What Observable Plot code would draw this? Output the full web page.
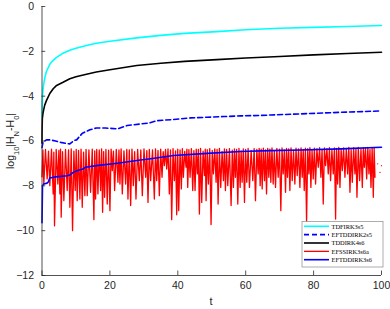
<!DOCTYPE html>
<html><head><meta charset="utf-8">
<script src="https://cdn.jsdelivr.net/npm/d3@7"></script>
<script src="https://cdn.jsdelivr.net/npm/@observablehq/plot@0.6"></script>
<style>body{margin:0;background:#fff}</style>
</head><body><div id="chart"></div>
<script>
// ---- data ----
const xTicks = [0, 20, 40, 60, 80, 100];
const yTicks = [-12, -10, -8, -6, -4, -2, 0];
const seriesNames = ["TDFIRK3s5", "EFTDDIRK2s5", "TDDIRK4s6", "EFSSIRK3s6a", "EFTDDIRK3s6"];

const cyanT = [0, 0.05, 0.15, 0.3, 0.5, 0.8, 1.3, 2.3, 3.3, 4.3, 6, 8.2, 10, 13.1, 16, 20, 27.9, 35, 42, 51.5, 60, 70, 80, 90, 100];
const cyanV = [-4.9, -4.4, -4.0, -3.7, -3.45, -3.2, -2.9, -2.58, -2.4, -2.27, -2.1, -1.95, -1.86, -1.74, -1.64, -1.55, -1.4, -1.29, -1.2, -1.12, -1.04, -0.97, -0.93, -0.89, -0.85];

const blackT = [0, 0.02, 0.1, 0.3, 0.5, 0.8, 1.3, 2.3, 3.3, 4.3, 6.2, 8.2, 10, 13.1, 16, 20, 27.9, 35, 42, 51.5, 60, 70, 80, 90, 100];
const blackV = [-6.1, -5.6, -5.0, -4.75, -4.6, -4.4, -4.2, -3.88, -3.67, -3.52, -3.38, -3.22, -3.13, -3.02, -2.92, -2.82, -2.63, -2.53, -2.45, -2.37, -2.3, -2.23, -2.16, -2.1, -2.04];

const dashT = [0, 0.3, 1.3, 2.5, 4, 5.5, 7.4, 8.2, 9.4, 10.2, 11.9, 14.1, 16, 18.7, 22.2, 25.1, 29, 31.5, 34, 38.8, 43.8, 48.7, 53.5, 58.5, 64.4, 67.4, 76.2, 88, 100];
const dashV = [-6.3, -6.05, -5.95, -5.95, -6.0, -6.06, -6.12, -6.13, -5.98, -5.95, -5.65, -5.5, -5.42, -5.42, -5.46, -5.31, -5.24, -5.2, -5.09, -5.04, -4.97, -4.94, -4.91, -4.88, -4.86, -4.84, -4.79, -4.72, -4.66];

const blueT = [0, 0.15, 0.5, 1.5, 1.8, 2.3, 4, 7.4, 8.2, 9.2, 10.5, 12.1, 12.8, 16, 22.2, 29, 31.5, 38.8, 48.7, 58.5, 67.4, 76.2, 88, 100];
const blueV = [-9.65, -8.0, -7.92, -7.88, -7.84, -7.65, -7.6, -7.55, -7.52, -7.4, -7.32, -7.25, -7.17, -7.1, -6.99, -6.85, -6.8, -6.65, -6.55, -6.47, -6.43, -6.4, -6.35, -6.28];

const redStart = [0, -7.6];
const redT = [0.54, 1.52, 2.31, 3.29, 3.69, 4.67, 5.26, 5.65, 6.44, 7.42, 8.21, 9.0, 9.78, 10.37, 11.16, 11.85, 12.63, 13.32, 14.31, 15.29, 15.78, 16.47, 17.26, 17.85, 18.44, 19.22, 20.01, 20.7, 21.39, 22.37, 22.96, 23.65, 24.63, 25.32, 26.11, 26.89, 27.68, 28.66, 29.55, 30.53, 31.22, 32.01,
  33.09, 33.78, 34.56, 35.35, 36.04, 36.73, 37.51, 38.2, 38.99, 39.68, 40.27, 41.05, 41.64, 42.43, 42.92, 43.61, 44.4, 45.08, 45.77, 46.36, 47.05, 47.84, 48.33, 49.02, 49.8, 50.49, 51.28, 51.87, 52.65, 53.44, 54.03, 54.72, 55.7, 56.39, 56.98, 57.67, 58.36, 58.95, 59.64, 60.32, 61.11, 62.09, 62.88, 63.67, 64.26, 64.85, 65.54,
  66.13, 66.81, 67.4, 68.09, 68.78, 69.57, 70.35, 71.04, 71.73, 72.32, 73.01, 73.7, 74.48, 75.17, 75.96, 76.65, 77.24, 77.93, 78.61, 79.2, 79.89, 80.58, 81.37, 82.15, 82.84, 83.53, 84.32, 85.0, 85.79, 86.48, 87.07, 87.76, 88.45, 89.23, 90.02, 90.71, 91.4, 92.18, 92.77, 93.56, 94.35, 94.94, 95.63, 96.31, 96.9, 97.59, 98.08, 98.87, 99.56, 100];
const redV = [-7.92, -7.69, -7.99, -8.36, -9.78, -7.92, -8.36, -9.4, -8.66, -8.21, -8.96, -10.0, -8.21, -8.66, -8.59, -8.96, -8.44, -8.44, -8.29, -9.51, -8.59, -8.36, -8.21, -9.18, -8.51, -8.81, -9.11, -7.32, -8.21, -7.84, -7.92, -8.36, -7.92, -8.59, -8.88, -7.99, -8.59, -7.77, -8.44, -7.62, -8.74, -7.77,
  -8.59, -7.77, -8.44, -7.62, -7.1, -7.25, -8.36, -9.51, -7.77, -9.29, -9.11, -8.14, -7.62, -7.17, -8.07, -7.62, -8.21, -8.21, -7.47, -9.26, -8.74, -7.54, -8.66, -7.92, -9.73, -7.47, -7.84, -8.81, -8.07, -7.77, -8.21, -7.99, -8.88, -8.07, -7.62, -8.81, -8.07, -7.84, -8.74, -7.84, -8.07, -7.77, -8.66, -7.47, -7.99, -8.14, -7.77,
  -8.36, -7.62, -7.84, -7.92, -8.07, -7.62, -9.11, -7.47, -8.29, -7.62, -8.21, -7.77, -7.92, -7.54, -8.07, -7.62, -8.21, -9.63, -7.47, -8.07, -7.69, -7.92, -7.17, -7.62, -8.81, -7.1, -7.47, -7.77, -7.47, -9.48, -7.92, -8.07, -7.32, -7.62, -7.47, -8.29, -7.84, -7.47, -8.51, -7.77, -8.07, -7.17, -7.69, -7.47, -8.07, -8.51, -7.62, -7.02, -7.4, -7.1];
const redTop = [-6.4, -6.38, -6.45, -6.36, -6.5, -6.38, -6.42, -6.36, -6.48, -6.38, -6.4, -6.35, -6.45, -6.38, -6.42, -6.36, -6.5, -6.37, -6.4, -6.36, -6.44, -6.38, -6.4, -6.35, -6.47, -6.38, -6.41, -6.36, -6.45, -6.37, -6.4, -6.35, -6.44, -6.38, -6.4, -6.36, -6.48, -6.37, -6.4, -6.35, -6.43, -6.37,
  -6.4, -6.35, -6.42, -6.36, -6.47, -6.38, -6.35, -6.4, -6.34, -6.44, -6.36, -6.4, -6.34, -6.46, -6.36, -6.39, -6.34, -6.43, -6.36, -6.38, -6.33, -6.45, -6.36, -6.39, -6.34, -6.42, -6.35, -6.38, -6.33, -6.46, -6.35, -6.38, -6.34, -6.41, -6.35, -6.37, -6.33, -6.44, -6.35, -6.38, -6.33, -6.42, -6.34, -6.37, -6.33,
  -6.36, -6.32, -6.4, -6.33, -6.36, -6.31, -6.43, -6.33, -6.36, -6.31, -6.4, -6.33, -6.35, -6.31, -6.42, -6.32, -6.35, -6.31, -6.38, -6.32, -6.34, -6.3, -6.41, -6.32, -6.34, -6.3, -6.38, -6.31, -6.34, -6.3, -6.4, -6.31, -6.33, -6.29, -6.37, -6.31, -6.33, -6.29, -6.39, -6.3, -6.33, -6.29, -6.36, -6.3, -6.32, -6.29, -6.38, -6.3, -6.32];

// ---- build tables ----
const toRows = (T, V) => T.map((t, i) => ({t, v: V[i]}));
const cyan = toRows(cyanT, cyanV);
const black = toRows(blackT, blackV);
const dash = toRows(dashT, dashV);
const blue = toRows(blueT, blueV);
const red = [{t: redStart[0], v: redStart[1]}];
redT.forEach((t, i) => {
  const prev = red[red.length - 1].t;
  red.push({t: (prev + t) / 2, v: redTop[i]});
  red.push({t, v: redV[i]});
});

const colors = ["#00ffff", "#0000ff", "#000000", "#ff0000", "#0000ff"];
const dashes = [null, "5,3", null, null, null];
const widths = [1.6, 1.6, 1.6, 1.3, 1.6];
const axisColor = "#262626";

const plot = Plot.plot({
  width: 390, height: 309,
  marginLeft: 41.5, marginRight: 9, marginTop: 6, marginBottom: 34,
  x: {domain: [0, 100], ticks: xTicks, tickSize: 0, tickPadding: 6, label: null},
  y: {domain: [-12, 0], ticks: yTicks, tickSize: 0, tickPadding: 8, label: null},
  style: {fontFamily: "'Liberation Sans', Arial, sans-serif", fontSize: "10.5px", color: axisColor, background: "#fff", overflow: "visible"},
  marks: [
    Plot.lineY(cyan, {x: "t", y: "v", stroke: colors[0], strokeWidth: widths[0]}),
    Plot.lineY(dash, {x: "t", y: "v", stroke: colors[1], strokeWidth: widths[1], strokeDasharray: dashes[1]}),
    Plot.lineY(black, {x: "t", y: "v", stroke: colors[2], strokeWidth: widths[2]}),
    Plot.lineY(red, {x: "t", y: "v", stroke: colors[3], strokeWidth: widths[3]}),
    Plot.lineY(blue, {x: "t", y: "v", stroke: colors[4], strokeWidth: widths[4]}),
    Plot.ruleX([0], {y1: -12, y2: 0, stroke: axisColor, strokeWidth: 0.8}),
    Plot.ruleY([-12], {x1: 0, x2: 100, stroke: axisColor, strokeWidth: 0.8}),
    Plot.ruleX(xTicks, {x: d => d, y1: -12, y2: -11.8, stroke: axisColor, strokeWidth: 0.8}),
    Plot.ruleY(yTicks, {y: d => d, x1: 0, x2: 1.1, stroke: axisColor, strokeWidth: 0.8})
  ]
});

const svg = d3.select(plot);
// x label
svg.append("text").attr("x", 211).attr("y", 305).attr("text-anchor", "middle")
  .attr("font-size", 11).attr("fill", axisColor).text("t");
// y label with subscripts
const yl = svg.append("text").attr("transform", "translate(14,141) rotate(-90)")
  .attr("text-anchor", "middle").attr("font-size", 10.5).attr("fill", axisColor);
yl.append("tspan").text("log");
yl.append("tspan").attr("baseline-shift", "sub").attr("font-size", 7.5).text("10");
yl.append("tspan").text("|H");
yl.append("tspan").attr("baseline-shift", "sub").attr("font-size", 7.5).text("N");
yl.append("tspan").text("-H");
yl.append("tspan").attr("baseline-shift", "sub").attr("font-size", 7.5).text("0");
yl.append("tspan").text("|");

// legend
const lg = svg.append("g").attr("text-anchor", "start");
lg.append("rect").attr("x", 302).attr("y", 221.5).attr("width", 81).attr("height", 45.5)
  .attr("fill", "#fff").attr("stroke", "#8a8a8a").attr("stroke-width", 0.7);
seriesNames.forEach((name, i) => {
  const y = 226.3 + i * 8.35;
  lg.append("line").attr("x1", 304).attr("x2", 329).attr("y1", y).attr("y2", y)
    .attr("stroke", colors[i]).attr("stroke-width", widths[i])
    .attr("stroke-dasharray", dashes[i] || null);
  lg.append("text").attr("x", 331.5).attr("y", y).attr("dy", "0.35em")
    .attr("text-anchor", "start")
    .attr("font-family", "'Liberation Serif', serif").attr("font-size", 6.4)
    .attr("fill", "#000").text(name);
});

document.getElementById("chart").appendChild(plot);
</script>
</body></html>
